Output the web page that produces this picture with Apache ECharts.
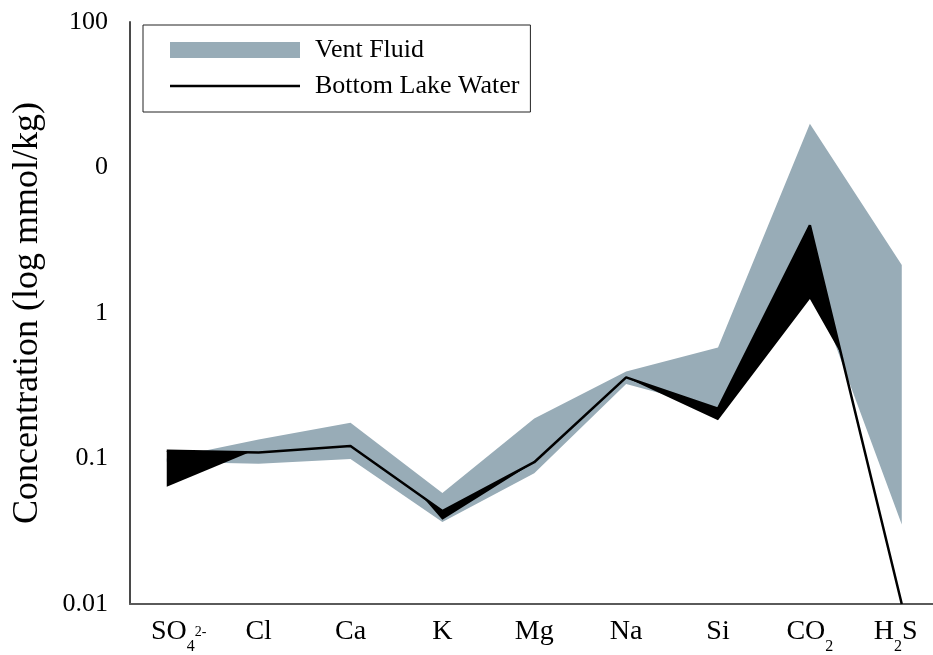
<!DOCTYPE html>
<html>
<head>
<meta charset="utf-8">
<script src="https://cdn.jsdelivr.net/npm/echarts@6/dist/echarts.min.js"></script>
<style>
  html, body { margin: 0; padding: 0; background: #ffffff; }
  #chart { width: 933px; height: 655px; }
</style>
</head>
<body>
<div id="chart"></div>
<script>
// Species along the x axis (rich-text markup for sub/superscripts)
const categories = [
  '{so|SO}{sub|4}{sup|2-}', '{m|Cl}', '{m|Ca}', '{m|K}', '{m|Mg}',
  '{m|Na}', '{m|Si}', '{m|CO}{sub|2}', '{m|H}{sub|2}{hs|S}'
];

// Vent fluid concentration range (mmol/kg)
const ventLow  = [0.095, 0.092, 0.0993, 0.0366, 0.0793, 0.325, 0.22, 1.8, 0.0352];
const ventHigh = [0.1,   0.135, 0.176,  0.058,  0.188,  0.397, 0.58, 20,  2.14];

// Bottom lake water concentration and its lower bound (mmol/kg)
const lakeWater    = [0.113, 0.11,  0.122, 0.0435, 0.0943, 0.361, 0.22,  4.0,  0.01];
const lakeWaterLow = [0.064, 0.117, 0.2,   0.038,  0.0943, 0.361, 0.183, 1.25, 0.095];

// Labels shown at each decade of the log axis, from 0.01 upwards
const yTickLabels = ['0.01', '0.1', '1', '0', '100'];

const VENT_COLOR = '#98acb7';
const FONT = 'Liberation Serif';

// Grey band: upper edge left-to-right, lower edge right-to-left
function renderVentBand(params, api) {
  if (params.dataIndex !== 0) return null;
  const pts = [];
  ventHigh.forEach((v, i) => pts.push(api.coord([i, v])));
  for (let i = ventLow.length - 1; i >= 0; i--) pts.push(api.coord([i, ventLow[i]]));
  return { type: 'polygon', shape: { points: pts }, style: { fill: VENT_COLOR }, silent: true };
}

// Black fill between lake water and its lower bound, only where the bound lies below
function lakeBandPieces() {
  const L = lakeWater.map(Math.log10);
  const W = lakeWaterLow.map(Math.log10);
  const pieces = [];
  let cur = null;
  for (let i = 0; i < L.length; i++) {
    const d = L[i] - W[i];
    if (d > 0) {
      if (!cur) cur = { top: [], bot: [] };
      cur.top.push([i, lakeWater[i]]);
      cur.bot.push([i, lakeWaterLow[i]]);
    }
    if (i === L.length - 1) break;
    const dn = L[i + 1] - W[i + 1];
    if ((d > 0) !== (dn > 0)) {
      const t = d / (d - dn);
      const c = [i + t, Math.pow(10, L[i] + t * (L[i + 1] - L[i]))];
      if (d > 0) {
        cur.top.push(c); cur.bot.push(c);
        pieces.push(cur); cur = null;
      } else {
        cur = { top: [c], bot: [c] };
      }
    }
  }
  if (cur) pieces.push(cur);
  return pieces;
}

function renderLakeBand(params, api) {
  if (params.dataIndex !== 0) return null;
  const children = lakeBandPieces().map(p => {
    const pts = p.top.map(v => api.coord(v));
    for (let k = p.bot.length - 1; k >= 0; k--) pts.push(api.coord(p.bot[k]));
    return { type: 'polygon', shape: { points: pts }, style: { fill: '#000000' }, silent: true };
  });
  return { type: 'group', children: children };
}

const tickIdx = categories.map((_, i) => i);

const option = {
  animation: false,
  backgroundColor: '#ffffff',
  grid: { left: 130, right: 0, top: 22, bottom: 44, containLabel: false },
  legend: {
    orient: 'vertical',
    left: 143,
    top: 25,
    padding: [12, 11, 13, 27],
    itemGap: 10,
    itemWidth: 130,
    itemHeight: 16,
    borderColor: '#222222',
    borderWidth: 1,
    selectedMode: false,
    textStyle: { fontFamily: FONT, fontSize: 26, color: '#000', lineHeight: 26, padding: [0, 0, 0, 10] },
    data: [
      { name: 'Vent Fluid', icon: 'rect' },
      { name: 'Bottom Lake Water', icon: 'path://M0,0 L130,0 L130,2.5 L0,2.5 Z' }
    ]
  },
  xAxis: {
    type: 'value',
    min: -0.4,
    max: 8.34,
    axisLine: { show: true, onZero: false, lineStyle: { color: '#5a5a5a', width: 2 } },
    axisTick: { show: false },
    splitLine: { show: false },
    axisLabel: {
      customValues: tickIdx,
      margin: 5,
      formatter: v => categories[Math.round(v)],
      rich: {
        m:   { fontFamily: FONT, fontSize: 28, lineHeight: 46, color: '#000' },
        so:  { fontFamily: FONT, fontSize: 28, lineHeight: 46, color: '#000', padding: [0, 0, 0, 24] },
        hs:  { fontFamily: FONT, fontSize: 28, lineHeight: 46, color: '#000', padding: [0, 12, 0, 0] },
        sub: { fontFamily: FONT, fontSize: 16, lineHeight: 16, verticalAlign: 'bottom', color: '#000' },
        sup: { fontFamily: FONT, fontSize: 14, lineHeight: 46, color: '#000' }
      }
    }
  },
  yAxis: {
    type: 'log',
    logBase: 10,
    min: 0.01,
    max: 100,
    name: 'Concentration (log mmol/kg)',
    nameLocation: 'middle',
    nameGap: 84,
    nameTextStyle: { fontFamily: FONT, fontSize: 36, color: '#000' },
    axisLine: { show: true, onZero: false, lineStyle: { color: '#4a4a4a', width: 2 } },
    axisTick: { show: false },
    splitLine: { show: false },
    minorSplitLine: { show: false },
    axisLabel: {
      margin: 22,
      fontFamily: FONT,
      fontSize: 26,
      color: '#000',
      formatter: v => yTickLabels[Math.round(Math.log10(v)) + 2]
    }
  },
  series: [
    {
      name: 'Vent Fluid',
      type: 'custom',
      z: 1,
      itemStyle: { color: VENT_COLOR },
      renderItem: renderVentBand,
      data: ventLow.map((v, i) => [i, v, ventHigh[i]]),
      encode: { x: 0, y: [1, 2] }
    },
    {
      name: 'lakeBand',
      type: 'custom',
      z: 2,
      itemStyle: { color: '#000' },
      renderItem: renderLakeBand,
      data: lakeWaterLow.map((v, i) => [i, v, lakeWater[i]]),
      encode: { x: 0, y: [1, 2] }
    },
    {
      name: 'Bottom Lake Water',
      type: 'line',
      z: 3,
      symbol: 'none',
      itemStyle: { color: '#000' },
      lineStyle: { color: '#000', width: 2.5 },
      data: lakeWater.map((v, i) => [i, v])
    }
  ]
};

const chart = echarts.init(document.getElementById('chart'), null, { renderer: 'canvas' });
chart.setOption(option);
</script>
</body>
</html>
